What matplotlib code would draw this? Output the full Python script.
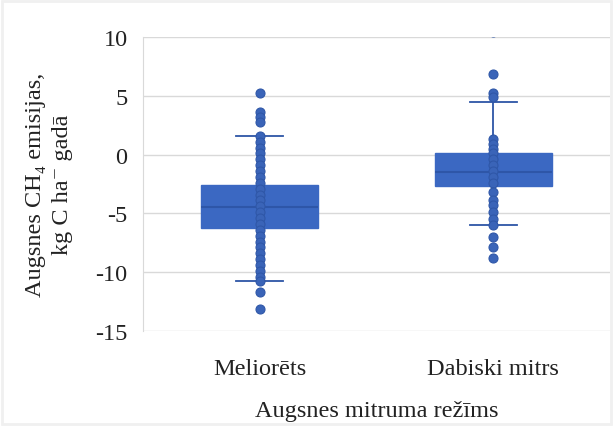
import matplotlib
matplotlib.use("Agg")
import matplotlib.pyplot as plt
from matplotlib.patches import Rectangle

categories = ["Meliorēts", "Dabiski mitrs"]
q1 = [-6.2, -2.7]
medians = [-4.45, -1.5]
q3 = [-2.6, 0.15]
whisk_low = [-10.75, -6.0]
whisk_high = [1.6, 4.5]
points_mel = [5.2, 3.6, 3.2, 2.8, 1.6, 1.1, 0.6, 0.1, -0.4, -0.9, -1.4, -1.9, -2.4,
              -2.9, -3.4, -3.9, -4.4, -4.9, -5.4, -5.9,
              -6.4, -6.9, -7.4, -7.9, -8.4, -8.9, -9.4, -9.9, -10.4, -10.75, -11.7, -13.1]
points_dab = [10.45, 6.85, 5.2, 4.9, 1.3, 0.9, 0.5, 0.1, -0.4, -0.9, -1.4, -1.9, -2.4,
              -3.2, -3.9, -4.3, -4.85, -5.5, -6.0, -7.0, -7.9, -8.8]
yticks = [10, 5, 0, -5, -10, -15]

serif = ["Liberation Serif", "DejaVu Serif"]
plt.rcParams["font.family"] = serif

fig = plt.figure(figsize=(6.13, 4.27), dpi=100)
fig.patches.append(Rectangle((0.004, 0.004), 0.992, 0.992, transform=fig.transFigure,
                             fill=False, edgecolor="#f0f0f0", linewidth=2))
ax = fig.add_axes([0.233, 0.2225, 0.762, 0.6885])

positions = [0, 1]
stats = []
for i in range(2):
    stats.append(dict(med=medians[i], q1=q1[i], q3=q3[i], whislo=whisk_low[i],
                      whishi=whisk_high[i], fliers=[]))
box_face = "#3B68C2"
edge = "#2D55A6"
ax.bxp(stats, positions=positions, widths=0.5, patch_artist=True, showfliers=False,
       boxprops=dict(facecolor=box_face, edgecolor=box_face, linewidth=1),
       medianprops=dict(color="#2E56A8", linewidth=1.5),
       whiskerprops=dict(color=edge, linewidth=1.3),
       capprops=dict(color=edge, linewidth=1.3),
       capwidths=0.2, zorder=2)

for pos, pts in zip(positions, [points_mel, points_dab]):
    ax.scatter([pos] * len(pts), pts, s=42, color="#3A64B8", edgecolor="#2F57A8",
               linewidth=0.8, zorder=3)

ax.set_xlim(-0.5, 1.5)
ax.set_ylim(-15, 10)
ax.set_yticks(yticks)
ax.set_yticklabels([str(t) for t in yticks])
ax.set_xticks(positions)
ax.set_xticklabels(categories)
ax.tick_params(axis="both", length=0, labelsize=17.5, colors="#222222")
ax.tick_params(axis="y", pad=11)
ax.tick_params(axis="x", pad=19.5)
ax.grid(axis="y", color="#d9d9d9", linewidth=1)
ax.set_axisbelow(True)
for s in ["top", "right", "bottom"]:
    ax.spines[s].set_visible(False)
ax.spines["left"].set_color("#d9d9d9")

ax.set_xlabel("Augsnes mitruma režīms", fontsize=17.5, labelpad=15, color="#222222")
ax.set_ylabel("Augsnes CH₄ emisijas,\nkg C ha⁻ gadā", fontsize=17.5, labelpad=16,
              color="#222222", linespacing=1.4)

fig.savefig("out.png", dpi=100)
